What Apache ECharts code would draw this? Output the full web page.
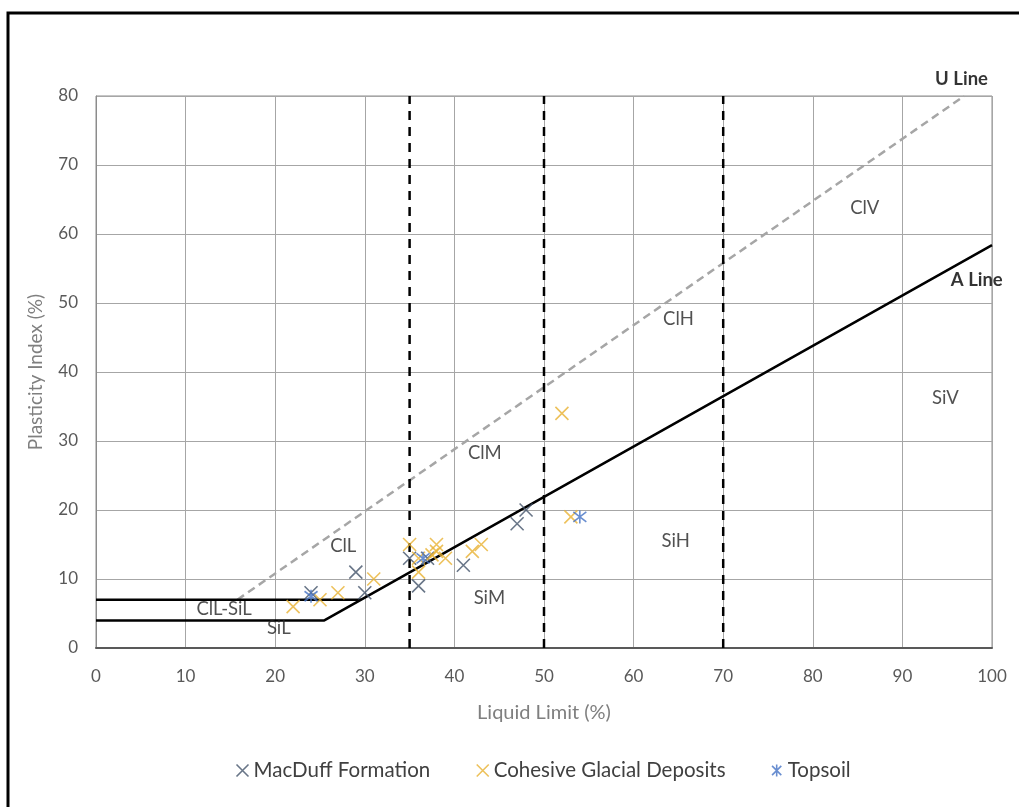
<!DOCTYPE html>
<html>
<head>
<meta charset="utf-8">
<script src="https://cdn.jsdelivr.net/npm/echarts@6/dist/echarts.min.js"></script>
<style>
  html, body { margin: 0; padding: 0; background: #fff; }
  #chart { width: 1019px; height: 807px; }
</style>
</head>
<body>
<div id="chart"></div>
<script>
// Casagrande plasticity chart (BS 5930 classification)
const FONT = 'Lato, "Open Sans", sans-serif';

// Sample results: [liquid limit %, plasticity index %]
const macduff = [[24, 8], [29, 11], [30, 8], [35, 13], [36, 9], [37, 13], [41, 12], [47, 18], [48, 20]];
const cohesive = [[22, 6], [25, 7], [27, 8], [31, 10], [35, 15], [36, 13], [36, 11], [37.5, 13.5],
                  [38, 15], [38, 14], [39, 13], [42, 14], [43, 15], [52, 34], [53, 19]];
const topsoil = [[24, 7.5], [36.5, 13], [54, 19]];

// Reference lines
const aLine = [[0, 4], [25.48, 4], [100, 58.4]];      // A line: PI = 0.73 (LL - 20)
const clSiLine = [[0, 7], [29.59, 7]];                 // upper limit of ClL-SiL band
const uLine = [[15.78, 7], [96.9, 80]];                // U line: PI = 0.9 (LL - 8)
const dividers = [35, 50, 70];                         // liquid limit boundaries

// Zone labels: [LL, PI, text]
const zones = [
  [85.8, 63.8, 'ClV'], [65, 47.7, 'ClH'], [94.8, 36.2, 'SiV'], [43.4, 28.3, 'ClM'],
  [64.7, 15.5, 'SiH'], [27.6, 14.8, 'ClL'], [43.9, 7.2, 'SiM'], [14.3, 5.6, 'ClL-SiL'],
  [20.4, 2.9, 'SiL']
];
const lineTags = [[96.6, 82.4, 'U Line'], [98.3, 53.4, 'A Line']];

const xTicks = [0, 10, 20, 30, 40, 50, 60, 70, 80, 90, 100];
const yTicks = [0, 10, 20, 30, 40, 50, 60, 70, 80];

const crossPath = 'path://M0,0L10,10M10,0L0,10';
const starPath = 'path://M0,0L10,10M10,0L0,10M5,-1.5L5,11.5';

const COLORS = { macduff: '#44546a', cohesive: '#e8b232', topsoil: '#4472c4' };

const chart = echarts.init(document.getElementById('chart'), null, { renderer: 'canvas' });

function markerSeries(name, data, color, symbol) {
  return {
    name, type: 'scatter', data, symbol, symbolSize: 13, z: 5,
    itemStyle: { color: 'none', borderColor: color, borderWidth: 1.6 }
  };
}

function textSeries(data, bold) {
  return {
    type: 'scatter', silent: true, symbolSize: 0, z: 6, clip: false,
    data: data.map(d => ({ value: [d[0], d[1]], label: { formatter: d[2] } })),
    label: {
      show: true, position: 'inside', color: bold ? '#000' : '#262626',
      fontFamily: FONT, fontSize: 18.5, fontWeight: bold ? 'bold' : 'normal'
    }
  };
}

const series = [
  {
    type: 'line', data: uLine, symbol: 'none', silent: true, z: 2,
    lineStyle: { color: '#a6a6a6', width: 2.5, type: [8, 5] }
  },
  {
    type: 'line', data: aLine, symbol: 'none', silent: true, z: 3,
    lineStyle: { color: '#000', width: 2.5 }
  },
  {
    type: 'line', data: clSiLine, symbol: 'none', silent: true, z: 3,
    lineStyle: { color: '#000', width: 2.5 }
  },
  ...dividers.map(v => ({
    type: 'line', data: [[v, 0], [v, 80]], symbol: 'none', silent: true, z: 3,
    lineStyle: { color: '#000', width: 2.5, type: [9, 7] }
  })),
  markerSeries('MacDuff Formation', macduff, COLORS.macduff, crossPath),
  markerSeries('Cohesive Glacial Deposits', cohesive, COLORS.cohesive, crossPath),
  markerSeries('Topsoil', topsoil, COLORS.topsoil, starPath),
  textSeries(zones, false),
  textSeries(lineTags, true)
];

chart.setOption({
  animation: false,
  backgroundColor: '#fff',
  graphic: [{
    type: 'rect', shape: { x: 8, y: 13, width: 1040, height: 830 },
    style: { fill: 'none', stroke: '#000', lineWidth: 3 }, z: 100, silent: true
  }],
  grid: { left: 96, right: 27, top: 96, bottom: 159, show: true, borderColor: '#8c8c8c', borderWidth: 1 },
  legend: {
    bottom: 21, left: 229, itemGap: 44, itemWidth: 12, itemHeight: 12,
    textStyle: { fontFamily: FONT, fontSize: 20.5, color: '#404040' },
    data: [
      { name: 'MacDuff Formation', icon: crossPath, itemStyle: { color: 'none', borderColor: COLORS.macduff, borderWidth: 1.6 } },
      { name: 'Cohesive Glacial Deposits', icon: crossPath, itemStyle: { color: 'none', borderColor: COLORS.cohesive, borderWidth: 1.6 } },
      { name: 'Topsoil', icon: starPath, itemStyle: { color: 'none', borderColor: COLORS.topsoil, borderWidth: 1.6 } }
    ]
  },
  xAxis: {
    type: 'value', min: xTicks[0], max: xTicks[xTicks.length - 1], interval: 10,
    name: 'Liquid Limit (%)', nameLocation: 'middle', nameGap: 55,
    nameTextStyle: { fontFamily: FONT, fontSize: 20, color: '#7f7f7f' },
    axisLine: { lineStyle: { color: '#595959', width: 2 } },
    axisTick: { show: false },
    axisLabel: { margin: 20, fontFamily: FONT, fontSize: 17, color: '#595959' },
    splitLine: { show: true, lineStyle: { color: '#a6a6a6', width: 1 } }
  },
  yAxis: {
    type: 'value', min: yTicks[0], max: yTicks[yTicks.length - 1], interval: 10,
    name: 'Plasticity Index (%)', nameLocation: 'middle', nameGap: 51, nameRotate: 90,
    nameTextStyle: { fontFamily: FONT, fontSize: 19, color: '#7f7f7f' },
    axisLine: { show: true, lineStyle: { color: '#8c8c8c', width: 1 } },
    axisTick: { show: false },
    axisLabel: { margin: 18, fontFamily: FONT, fontSize: 17, color: '#595959' },
    splitLine: { show: true, lineStyle: { color: '#a6a6a6', width: 1 } }
  },
  series
});
</script>
</body>
</html>
